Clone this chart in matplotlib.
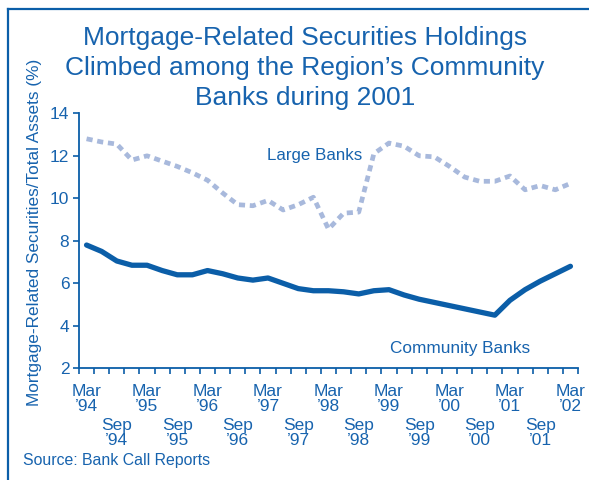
import matplotlib
matplotlib.use("Agg")
import matplotlib.pyplot as plt
from matplotlib.lines import Line2D
from matplotlib.ticker import FixedLocator, NullFormatter

plt.rcParams['font.family'] = ['Liberation Sans', 'DejaVu Sans']

# Quarterly observations, March 1994 through March 2002
quarters = ["Mar '94", "Jun '94", "Sep '94", "Dec '94",
            "Mar '95", "Jun '95", "Sep '95", "Dec '95",
            "Mar '96", "Jun '96", "Sep '96", "Dec '96",
            "Mar '97", "Jun '97", "Sep '97", "Dec '97",
            "Mar '98", "Jun '98", "Sep '98", "Dec '98",
            "Mar '99", "Jun '99", "Sep '99", "Dec '99",
            "Mar '00", "Jun '00", "Sep '00", "Dec '00",
            "Mar '01", "Jun '01", "Sep '01", "Dec '01",
            "Mar '02"]

community_banks = [7.8, 7.5, 7.05, 6.85, 6.85, 6.6, 6.4, 6.4, 6.6, 6.45,
                   6.25, 6.15, 6.25, 6.0, 5.75, 5.65, 5.65, 5.6, 5.5, 5.65,
                   5.7, 5.45, 5.25, 5.1, 4.95, 4.8, 4.65, 4.5, 5.2, 5.7,
                   6.1, 6.45, 6.8]

large_banks = [12.8, 12.65, 12.55, 11.8, 12.0, 11.75, 11.5, 11.2, 10.85, 10.25,
               9.7, 9.65, 9.9, 9.45, 9.7, 10.05, 8.55, 9.3, 9.35, 12.1,
               12.6, 12.45, 12.0, 11.95, 11.5, 11.0, 10.8, 10.8, 11.05, 10.4,
               10.6, 10.4, 10.7]

mar_labels = ["Mar\n\u201994", "Mar\n\u201995", "Mar\n\u201996", "Mar\n\u201997", "Mar\n\u201998",
              "Mar\n\u201999", "Mar\n\u201900", "Mar\n\u201901", "Mar\n\u201902"]
sep_labels = ["Sep\n\u201994", "Sep\n\u201995", "Sep\n\u201996", "Sep\n\u201997",
              "Sep\n\u201998", "Sep\n\u201999", "Sep\n\u201900", "Sep\n\u201901"]

y_ticks = [2, 4, 6, 8, 10, 12, 14]

title_lines = ["Mortgage-Related Securities Holdings",
               "Climbed among the Region\u2019s Community",
               "Banks during 2001"]

TEXT = "#1763ae"
DARK = "#0b5ea8"
LIGHT = "#a8b9dc"

W, H = 589, 480
fig = plt.figure(figsize=(W / 100, H / 100), dpi=100)


def fx(px):
    return px / W


def fy(py):
    return 1 - py / H


# Outer frame: top and left rules
fig.add_artist(Line2D([fx(8), fx(W)], [fy(9), fy(9)], color=DARK, lw=1.6))
fig.add_artist(Line2D([fx(8), fx(8)], [fy(9), fy(H)], color=DARK, lw=1.6))

# Title
for k, line in enumerate(title_lines):
    fig.text(fx(305), fy(45.5 + 29.5 * k), line, ha="center", va="baseline",
             fontsize=19, color=TEXT)

ax = fig.add_axes([fx(79), fy(368.3), fx(578 - 79), (368.3 - 113.3) / H])

x = list(range(len(quarters)))
ax.plot(x, large_banks, color=LIGHT, lw=3.4, dashes=(1.3, 1.0),
        dash_capstyle="butt", solid_joinstyle="round")
ax.plot(x, community_banks, color=DARK, lw=3.8, solid_capstyle="round",
        solid_joinstyle="round")

ax.set_xlim(-0.5, len(quarters) - 0.5)
ax.set_ylim(2, 14)

for side in ("top", "right"):
    ax.spines[side].set_visible(False)
for side in ("left", "bottom"):
    ax.spines[side].set_color(DARK)
    ax.spines[side].set_linewidth(1.3)

ax.set_yticks(y_ticks)
ax.set_yticklabels([str(v) for v in y_ticks])
ax.tick_params(axis="y", direction="out", length=4, width=1.2, color=DARK,
               labelcolor=TEXT, labelsize=12.5, pad=3)

# Tick marks at quarter boundaries, labels centred on quarters
ax.xaxis.set_major_locator(FixedLocator([i - 0.5 for i in range(len(quarters) + 1)]))
ax.xaxis.set_major_formatter(NullFormatter())
ax.tick_params(axis="x", direction="out", length=4, width=1.2, color=DARK)

lab_tr = ax.get_xaxis_transform()
for j, lab in enumerate(mar_labels):
    ax.text(4 * j, -0.06, lab, transform=lab_tr, ha="center", va="top",
            fontsize=12.5, color=TEXT, linespacing=1.0)
for j, lab in enumerate(sep_labels):
    ax.text(4 * j + 2, -0.195, lab, transform=lab_tr, ha="center", va="top",
            fontsize=12.5, color=TEXT, linespacing=1.0)

fig.text(fx(35), fy(232), "Mortgage-Related Securities/Total Assets (%)",
         rotation=90, ha="center", va="center", fontsize=12.4, color=TEXT)

fig.text(fx(267), fy(155), "Large Banks", ha="left", va="center",
         fontsize=12.2, color=TEXT)
fig.text(fx(390), fy(349), "Community Banks", ha="left", va="center",
         fontsize=12.4, color=TEXT)

fig.text(fx(23), fy(461), "Source: Bank Call Reports", ha="left", va="center",
         fontsize=11.4, color=TEXT)

fig.savefig("out.png", dpi=100)
